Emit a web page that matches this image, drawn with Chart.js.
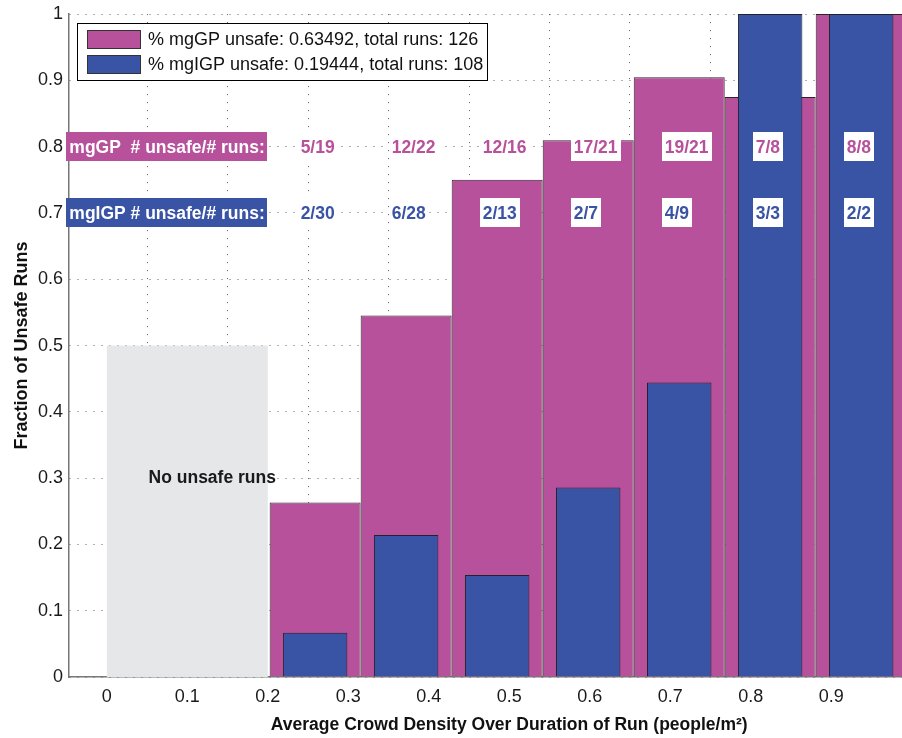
<!DOCTYPE html>
<html><head><meta charset="utf-8">
<script src="https://cdn.jsdelivr.net/npm/chart.js@4/dist/chart.umd.min.js"></script>
<style>html,body{margin:0;padding:0;background:#fff;overflow:hidden}#wrap{width:902px;height:738px;position:relative}</style>
</head><body><div id="wrap"><canvas id="c" width="902" height="738"></canvas></div>
<script>
// ---- data ----
const binCenters = [0.2588, 0.3719, 0.4850, 0.5981, 0.7112, 0.8242, 0.9373];
const mgGPUnsafe = [5, 12, 12, 17, 19, 7, 8];
const mgGPRuns = [19, 22, 16, 21, 21, 8, 8];
const mgIGPUnsafe = [2, 6, 2, 2, 4, 3, 2];
const mgIGPRuns = [30, 28, 13, 7, 9, 3, 2];
const xTicks = [0, 0.1, 0.2, 0.3, 0.4, 0.5, 0.6, 0.7, 0.8, 0.9];
const yTicks = [0, 0.1, 0.2, 0.3, 0.4, 0.5, 0.6, 0.7, 0.8, 0.9, 1];
const legendLabels = ['% mgGP unsafe: 0.63492, total runs: 126', '% mgIGP unsafe: 0.19444, total runs: 108'];
const rowLabels = ['mgGP  # unsafe/# runs:', 'mgIGP # unsafe/# runs:'];
const rowLevels = [0.8, 0.7];
const noUnsafeRegion = [0, 0.2, 0.5];
const noUnsafeText = 'No unsafe runs';
const xTitle = 'Average Crowd Density Over Duration of Run (people/m²)';
const yTitle = 'Fraction of Unsafe Runs';

const MAG = '#b8519b', BLU = '#3953a5', GRAY = '#e6e7e8';
const FONT = "'Liberation Sans', Arial, Helvetica, sans-serif";

const magData = binCenters.map((x, i) => ({x, y: mgGPUnsafe[i] / mgGPRuns[i]}));
const bluData = binCenters.map((x, i) => ({x, y: mgIGPUnsafe[i] / mgIGPRuns[i]}));

const decor = {
  id: 'decor',
  beforeDatasetsDraw(chart) {
    const {ctx, scales: {x, y}} = chart;
    ctx.save();
    ctx.fillStyle = GRAY;
    const x0 = x.getPixelForValue(noUnsafeRegion[0]), x1 = x.getPixelForValue(noUnsafeRegion[1]);
    const y0 = y.getPixelForValue(0), y1 = y.getPixelForValue(noUnsafeRegion[2]);
    ctx.fillRect(x0, y1, x1 - x0, y0 - y1);
    ctx.restore();
  },
  afterDatasetsDraw(chart) {
    const {ctx, scales: {x, y}} = chart;
    ctx.save();
    // No unsafe runs
    ctx.font = 'bold 17.5px ' + FONT;
    ctx.fillStyle = '#1a1a1a';
    ctx.textAlign = 'center';
    ctx.textBaseline = 'middle';
    ctx.fillText(noUnsafeText, x.getPixelForValue(0.131), y.getPixelForValue(0.3));
    // row labels
    const cols = [MAG, BLU];
    const rows = [[mgGPUnsafe, mgGPRuns], [mgIGPUnsafe, mgIGPRuns]];
    ctx.textAlign = 'left';
    for (let r = 0; r < 2; r++) {
      const yc = y.getPixelForValue(rowLevels[r]);
      const right = x.getPixelForValue(0.2);
      ctx.font = 'bold 17.5px ' + FONT;
      const w = ctx.measureText(rowLabels[r]).width;
      const tl = right - 3 - w;
      ctx.fillStyle = cols[r];
      ctx.fillRect(Math.round(tl - 3), Math.round(yc - 14.5), Math.round(right - tl + 3), 29);
      ctx.fillStyle = '#fff';
      ctx.fillText(rowLabels[r], tl, yc + 1);
      for (let i = 0; i < binCenters.length; i++) {
        const t = rows[r][0][i] + '/' + rows[r][1][i];
        const lx = x.getPixelForValue(binCenters[i] - 0.018);
        const tw = ctx.measureText(t).width;
        ctx.fillStyle = '#fff';
        ctx.fillRect(Math.round(lx - 3), Math.round(yc - 14.5), Math.round(tw + 6), 29);
        ctx.fillStyle = cols[r];
        ctx.fillText(t, lx, yc + 1);
      }
    }
    // legend
    ctx.fillStyle = '#fff';
    ctx.fillRect(77.5, 23.5, 410, 57);
    ctx.strokeStyle = '#000';
    ctx.lineWidth = 1;
    ctx.strokeRect(77.5, 23.5, 410, 57);
    ctx.font = '18px ' + FONT;
    const sy = [30, 55];
    for (let k = 0; k < 2; k++) {
      ctx.fillStyle = cols[k];
      ctx.fillRect(87.5, sy[k] + 0.5, 53, 18);
      ctx.strokeStyle = '#333';
      ctx.strokeRect(87.5, sy[k] + 0.5, 53, 18);
      ctx.fillStyle = '#111';
      ctx.fillText(legendLabels[k], 148, sy[k] + 10);
    }
    ctx.restore();
  },
  afterDraw(chart) {
    const {ctx, scales: {x}} = chart;
    ctx.save();
    ctx.font = 'bold 17.5px ' + FONT;
    ctx.fillStyle = '#111';
    ctx.textAlign = 'center';
    ctx.textBaseline = 'middle';
    ctx.fillText(xTitle, x.getPixelForValue(0.5), 725);
    ctx.restore();
  }
};

new Chart(document.getElementById('c'), {
  type: 'bar',
  data: {
    datasets: [
      {label: 'mgGP', data: magData, backgroundColor: MAG, borderColor: '#2e2229', borderWidth: 1,
       categoryPercentage: 1, barPercentage: 1.1304, grouped: false, order: 2},
      {label: 'mgIGP', data: bluData, backgroundColor: BLU, borderColor: '#22222c', borderWidth: 1,
       categoryPercentage: 1, barPercentage: 0.801, grouped: false, order: 1}
    ]
  },
  options: {
    responsive: false,
    animation: false,
    layout: {padding: {top: 8, right: 0, left: 0, bottom: 0}},
    plugins: {legend: {display: false}, tooltip: {enabled: false}},
    scales: {
      x: {
        type: 'linear', min: -0.047, max: 0.988, offset: false,
        afterBuildTicks: s => { s.ticks = xTicks.map(v => ({value: v})); },
        afterFit: s => { s.height = 61; },
        grid: {color: 'rgba(60,60,60,0.8)', lineWidth: 1, drawTicks: false},
        border: {color: '#777', width: 1.5, dash: [1, 7]},
        ticks: {color: '#1a1a1a', font: {family: FONT, size: 18}, padding: 9, maxRotation: 0,
                callback: v => String(+v.toFixed(1))}
      },
      y: {
        min: 0, max: 1,
        afterBuildTicks: s => { s.ticks = yTicks.map(v => ({value: v})); },
        afterFit: s => { s.width = 69; },
        grid: {color: 'rgba(60,60,60,0.8)', lineWidth: 1, drawTicks: false},
        border: {color: '#777', width: 1.5, dash: [1, 7]},
        ticks: {color: '#1a1a1a', font: {family: FONT, size: 18, lineHeight: 0.9}, padding: 6,
                callback: v => String(+v.toFixed(1))},
        title: {display: true, text: yTitle, color: '#111', font: {family: FONT, size: 18, weight: 'bold'}, padding: {top: 11, bottom: 0}}
      }
    }
  },
  plugins: [decor]
});
</script></body></html>
